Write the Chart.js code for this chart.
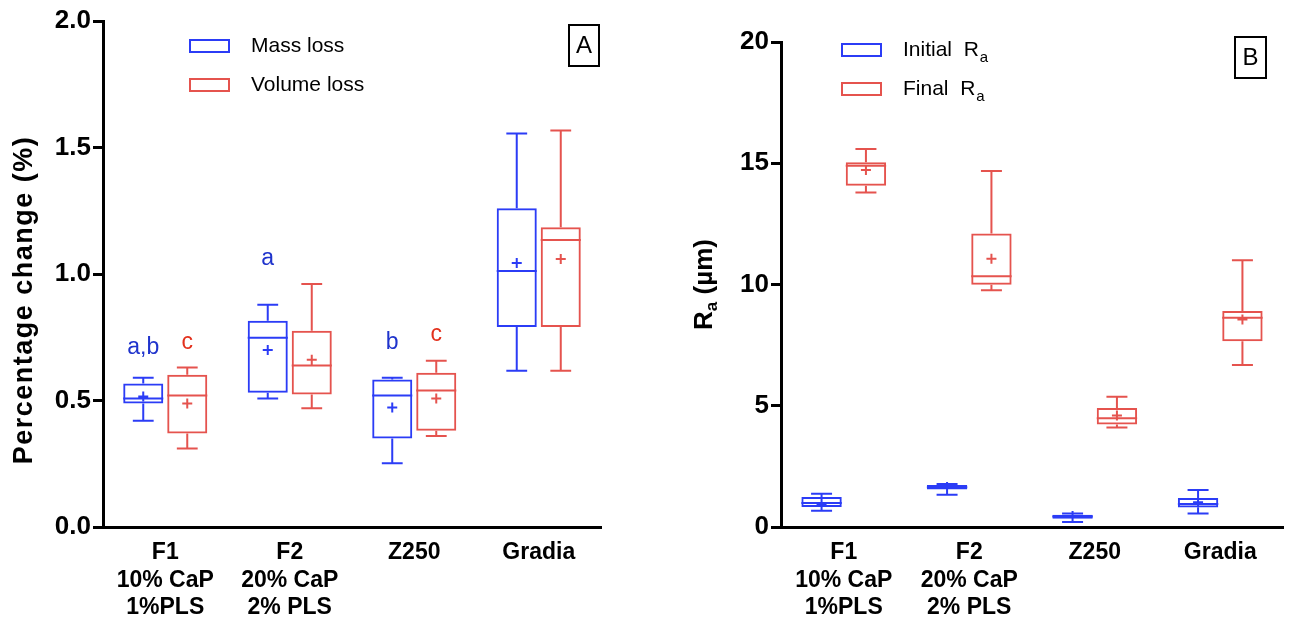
<!DOCTYPE html>
<html>
<head>
<meta charset="utf-8">
<script src="https://cdn.jsdelivr.net/npm/chart.js@4.4.0/dist/chart.umd.min.js"></script>
<style>
  body { margin: 0; background: #fff; }
  #chartA { position: absolute; left: 0; top: 0; }
  #chartB { position: absolute; left: 640px; top: 0; }
</style>
</head>
<body>
<canvas id="chartA" width="640" height="624"></canvas>
<canvas id="chartB" width="651" height="624"></canvas>
<script>
const groups = [['F1', '10% CaP', '1%PLS'], ['F2', '20% CaP', '2% PLS'], 'Z250', 'Gradia'];

// each entry: [min, q1, median, q3, max, mean]
const massLoss = [
  [0.42, 0.488, 0.508, 0.567, 0.59, 0.516],
  [0.508, 0.531, 0.748, 0.815, 0.878, 0.70],
  [0.252, 0.35, 0.52, 0.583, 0.59, 0.472],
  [0.618, 0.791, 1.012, 1.26, 1.555, 1.043]
];
const volumeLoss = [
  [0.31, 0.37, 0.52, 0.602, 0.63, 0.488],
  [0.469, 0.524, 0.638, 0.776, 0.96, 0.661],
  [0.36, 0.38, 0.54, 0.61, 0.657, 0.508],
  [0.618, 0.791, 1.134, 1.185, 1.567, 1.059]
];
const initialRa = [
  [0.67, 0.82, 0.99, 1.24, 1.37, 0.95],
  [1.33, 1.55, 1.64, 1.73, 1.77, 1.65],
  [0.21, 0.34, 0.43, 0.51, 0.56, 0.45],
  [0.56, 0.80, 0.95, 1.20, 1.53, 1.02]
];
const finalRa = [
  [13.79, 14.07, 14.9, 15.04, 15.59, 14.72],
  [9.76, 9.99, 10.34, 12.1, 14.68, 11.06],
  [4.10, 4.23, 4.48, 4.91, 5.37, 4.60],
  [6.68, 7.66, 8.63, 8.91, 11.0, 8.56]
];

// significance letters and the value they sit at
const sigMass = ['a,b', 'a', 'b', ''];
const sigMassAt = [0.71, 1.06, 0.73, null];
const sigVolume = ['c', '', 'c', ''];
const sigVolumeAt = [0.73, null, 0.76, null];

const yTicksA = [0, 0.5, 1.0, 1.5, 2.0];
const yTicksB = [0, 5, 10, 15, 20];

const BLUE = '#2b3cf6';
const RED = '#e5534e';
const FONT = "'Liberation Sans', Arial, sans-serif";

// whiskers, medians and means on top of the floating bars
const boxPlot = {
  id: 'boxPlot',
  afterDatasetsDraw(chart) {
    const ctx = chart.ctx;
    const y = chart.scales.y;
    chart.data.datasets.forEach((ds, d) => {
      const meta = chart.getDatasetMeta(d);
      meta.data.forEach((el, i) => {
        const s = ds.stats[i];
        const x = el.x, w = el.width;
        const cap = w * 0.26;
        ctx.save();
        ctx.strokeStyle = ds.borderColor;
        ctx.lineWidth = 2;
        ctx.beginPath();
        ctx.moveTo(x, y.getPixelForValue(s[4]));
        ctx.lineTo(x, y.getPixelForValue(s[3]));
        ctx.moveTo(x, y.getPixelForValue(s[1]));
        ctx.lineTo(x, y.getPixelForValue(s[0]));
        ctx.moveTo(x - cap, y.getPixelForValue(s[4]));
        ctx.lineTo(x + cap, y.getPixelForValue(s[4]));
        ctx.moveTo(x - cap, y.getPixelForValue(s[0]));
        ctx.lineTo(x + cap, y.getPixelForValue(s[0]));
        ctx.moveTo(x - w / 2, y.getPixelForValue(s[2]));
        ctx.lineTo(x + w / 2, y.getPixelForValue(s[2]));
        const my = y.getPixelForValue(s[5]);
        ctx.moveTo(x - 5, my);
        ctx.lineTo(x + 5, my);
        ctx.moveTo(x, my - 5);
        ctx.lineTo(x, my + 5);
        ctx.stroke();
        if (ds.sig && ds.sig[i]) {
          ctx.fillStyle = ds.sigColor;
          ctx.font = '23px ' + FONT;
          ctx.textAlign = 'center';
          ctx.textBaseline = 'middle';
          ctx.fillText(ds.sig[i], x, y.getPixelForValue(ds.sigAt[i]));
        }
        ctx.restore();
      });
    });
  }
};

// legend, panel tag and y title drawn by hand
const decor = {
  id: 'decor',
  afterDraw(chart, args, opts) {
    const ctx = chart.ctx;
    ctx.save();
    ctx.textBaseline = 'middle';
    ctx.textAlign = 'left';
    chart.data.datasets.forEach((ds, d) => {
      const ly = opts.legendY[d];
      ctx.strokeStyle = ds.borderColor;
      ctx.lineWidth = 2;
      ctx.strokeRect(opts.legendX, ly - 6, 39, 12);
      ctx.fillStyle = '#000';
      ctx.font = '21px ' + FONT;
      ctx.fillText(ds.label, opts.legendX + 61, ly);
      if (ds.sub) {
        const w = ctx.measureText(ds.label).width;
        ctx.font = '15px ' + FONT;
        ctx.fillText(ds.sub, opts.legendX + 61 + w + 1, ly + 8);
      }
    });
    const t = opts.tag;
    ctx.strokeStyle = '#000';
    ctx.lineWidth = 2;
    ctx.strokeRect(t.x, t.y, t.w, t.h);
    ctx.font = '24px ' + FONT;
    ctx.textAlign = 'center';
    ctx.fillStyle = '#000';
    ctx.fillText(t.text, t.x + t.w / 2, t.y + t.h / 2 + 1);

    // rotated y axis title
    const yt = opts.yTitle;
    const ca = chart.chartArea;
    ctx.translate(yt.x, (ca.top + ca.bottom) / 2 + (yt.shift || 0));
    ctx.rotate(-Math.PI / 2);
    ctx.textAlign = 'left';
    const size = yt.size || 26;
    const big = 'bold ' + size + 'px ' + FONT, small = 'bold 17px ' + FONT;
    if (yt.spacing) ctx.letterSpacing = yt.spacing + 'px';
    let total = 0;
    yt.parts.forEach(p => { ctx.font = p.sub ? small : big; total += ctx.measureText(p.text).width; });
    let px = -total / 2;
    yt.parts.forEach(p => {
      ctx.font = p.sub ? small : big;
      ctx.fillText(p.text, px, p.sub ? 7 : 0);
      px += ctx.measureText(p.text).width;
    });
    ctx.restore();
  }
};

function makeChart(id, sets, yMin, yMax, step, fmt, axisW, pad, decorOpts) {
  return new Chart(document.getElementById(id), {
    type: 'bar',
    data: { labels: groups, datasets: sets },
    plugins: [boxPlot, decor],
    options: {
      responsive: false,
      devicePixelRatio: 1,
      animation: false,
      layout: { padding: pad },
      plugins: { legend: { display: false }, tooltip: { enabled: false }, decor: decorOpts },
      scales: {
        x: {
          grid: { display: false, drawTicks: false },
          border: { display: true, color: '#000', width: 3 },
          ticks: { color: '#000', font: { family: FONT, size: 23, weight: 'bold' }, padding: 12, maxRotation: 0, autoSkip: false },
          afterFit: s => { s.height = 97; }
        },
        y: {
          min: yMin, max: yMax,
          ticks: { stepSize: step, callback: fmt, color: '#000', font: { family: FONT, size: 26, weight: 'bold' }, padding: 2 },
          grid: { drawOnChartArea: false, color: '#000', lineWidth: 3, tickLength: 10 },
          border: { color: '#000', width: 3 },
          afterFit: s => { s.width = axisW; }
        }
      }
    }
  });
}

function boxSet(label, stats, color, extra) {
  return Object.assign({
    label: label,
    stats: stats,
    data: stats.map(s => [s[1], s[3]]),
    backgroundColor: 'rgba(0,0,0,0)',
    borderColor: color,
    borderWidth: 2,
    borderSkipped: false,
    barPercentage: 0.91,
    categoryPercentage: 0.707
  }, extra || {});
}

makeChart('chartA', [
  boxSet('Mass loss', massLoss, BLUE, { sig: sigMass, sigAt: sigMassAt, sigColor: '#1f33cc' }),
  boxSet('Volume loss', volumeLoss, RED, { sig: sigVolume, sigAt: sigVolumeAt, sigColor: '#e3301c' })
], yTicksA[0], yTicksA[yTicksA.length - 1], 0.5, v => v.toFixed(1), 103,
  { left: 0, top: 21, right: 39, bottom: 0 },
  {
    legendX: 190, legendY: [46, 85],
    tag: { text: 'A', x: 569, y: 25, w: 30, h: 41 },
    yTitle: { x: 25, shift: 26, size: 27, spacing: 1.5, parts: [{ text: 'Percentage change (%)' }] }
  });

makeChart('chartB', [
  boxSet('Initial  R', initialRa, BLUE, { sub: 'a' }),
  boxSet('Final  R', finalRa, RED, { sub: 'a' })
], yTicksB[0], yTicksB[yTicksB.length - 1], 5, v => String(v), 141,
  { left: 0, top: 42, right: 8, bottom: 0 },
  {
    legendX: 202, legendY: [50, 89],
    tag: { text: 'B', x: 595, y: 37, w: 31, h: 41 },
    yTitle: { x: 65, parts: [{ text: 'R' }, { text: 'a', sub: true }, { text: ' (\u00b5m)' }] }
  });
</script>
</body>
</html>
